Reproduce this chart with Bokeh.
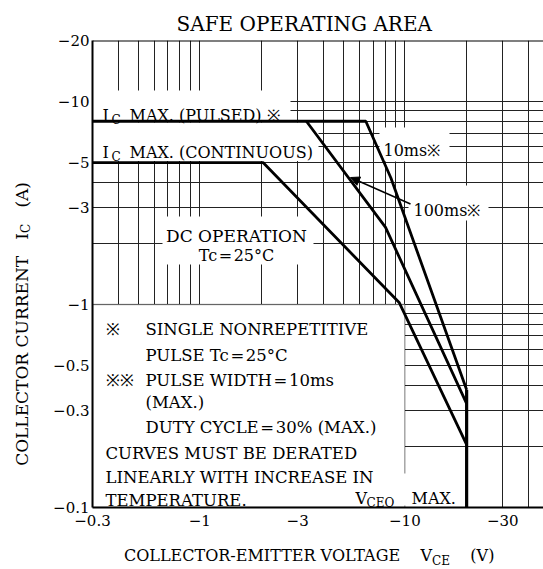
import math
from bokeh.plotting import figure
from bokeh.models import FixedTicker, Label, BoxAnnotation, Arrow, NormalHead, Span, Div
from bokeh.layouts import column, row
from bokeh.embed import file_html
from bokeh.resources import INLINE

# ---------------- data ----------------
x_ticks = [0.3, 1, 3, 10, 30]
x_tick_labels = ["\u22120.3", "\u22121", "\u22123", "\u221210", "\u221230"]
y_ticks = [0.1, 0.3, 0.5, 1, 3, 5, 10, 20]
y_tick_labels = ["\u22120.1", "\u22120.3", "\u22120.5", "\u22121", "\u22123", "\u22125", "\u221210", "\u221220"]
x_grid = [0.4, 0.5, 0.6, 0.7, 0.8, 0.9, 1, 2, 3, 4, 5, 6, 7, 8, 9, 10, 20, 30, 40]
y_grid = [0.2, 0.3, 0.4, 0.5, 0.6, 0.7, 0.8, 0.9, 1, 2, 3, 4, 5, 6, 7, 8, 9, 10]

# SOA boundaries (|VCE| in V, |IC| in A)
v_10ms = [0.3, 6.45, 8.55, 20]
i_10ms = [8, 8, 4.2, 0.38]
v_100ms = [3.31, 8.05, 20]
i_100ms = [8, 2.4, 0.325]
v_dc = [0.3, 2.04, 9.4, 20]
i_dc = [5, 5, 1.02, 0.204]
v_vceo = [20, 20]
i_vceo = [0.38, 0.1]

X0, X1 = 0.3, 47.4
Y0, Y1 = 0.1, 20

# ---------------- layout ----------------
LEFT_W = 40          # width of the rotated y-label column
PW, PH = 503, 533    # plot canvas
FL, FR, FT, FB = 92, 543, 40, 507  # frame edges in page pixels

p = figure(width=PW, height=PH, x_axis_type="log", y_axis_type="log",
           x_range=(X0, X1), y_range=(Y0, Y1),
           output_backend="svg", toolbar_location=None,
           min_border_left=FL - LEFT_W, min_border_right=0,
           min_border_top=FT, min_border_bottom=PH - FB)
p.outline_line_color = None
p.background_fill_color = "white"
p.border_fill_color = "white"
p.margin = (0, 0, 0, 0)

FONT = "DejaVu Serif"

p.title.text = "SAFE OPERATING AREA"
p.title.align = "left"
p.title.offset = 84
p.title.text_font = FONT
p.title.text_font_size = "20px"
p.title.text_font_style = "normal"
p.title.text_color = "black"
p.title.standoff = 10

LX0, LX1 = math.log10(X0), math.log10(X1)
LY0, LY1 = math.log10(Y0), math.log10(Y1)


def px(wx, wy):
    x = 10 ** (LX0 + (wx - FL) / (FR - FL) * (LX1 - LX0))
    y = 10 ** (LY1 - (wy - FT) / (FB - FT) * (LY1 - LY0))
    return x, y


# axes
for ax, ticks, labels, size, stand in ((p.xaxis, x_ticks, x_tick_labels, "15px", 7),
                                        (p.yaxis, y_ticks, y_tick_labels, "15px", 3)):
    ax.ticker = FixedTicker(ticks=ticks)
    ax.major_label_overrides = {t: l for t, l in zip(ticks, labels)}
    ax.axis_line_width = 2
    ax.axis_line_color = "black"
    ax.major_tick_in = 0
    ax.major_tick_out = 0
    ax.minor_tick_in = 0
    ax.minor_tick_out = 0
    ax.major_label_text_font = FONT
    ax.major_label_text_font_size = size
    ax.major_label_text_color = "black"
    ax.major_label_standoff = stand

p.xgrid.ticker = FixedTicker(ticks=x_grid)
p.ygrid.ticker = FixedTicker(ticks=y_grid)
for g in (p.xgrid, p.ygrid):
    g.grid_line_color = "#222222"
    g.grid_line_width = 1

p.add_layout(Span(location=Y1, dimension="width", line_color="black", line_width=2))


def mask(wx0, wy0, wx1, wy1):
    x0, y1 = px(wx0, wy0)
    x1, y0 = px(wx1, wy1)
    p.add_layout(BoxAnnotation(left=x0, right=x1, bottom=y0, top=y1,
                               fill_color="white", fill_alpha=1.0,
                               line_color=None, level="underlay"))


# white label backgrounds interrupting the grid
mask(92, 90, 290, 119.5)      # IC MAX (PULSED)
mask(92, 122, 318, 160.5)     # IC MAX (CONTINUOUS)
mask(162, 216, 313, 264)      # DC OPERATION
p.add_layout(BoxAnnotation(left=X0, right=10, bottom=Y0, top=1,
                           fill_color="white", fill_alpha=1.0,
                           line_color="black", line_width=1.5, level="underlay"))
mask(352, 473, 460, 505)      # VCEO MAX
mask(379, 127, 449, 161)      # 10ms
mask(408, 185, 488, 220)      # 100ms

# curves
LW = 2.8
p.line(v_10ms, i_10ms, line_color="black", line_width=LW)
p.line(v_100ms, i_100ms, line_color="black", line_width=LW)
p.line(v_dc, i_dc, line_color="black", line_width=LW)
p.line(v_vceo, i_vceo, line_color="black", line_width=LW + 0.4)


def lab(text, wx, wy, size=16, align="left", baseline="alphabetic"):
    x, y = px(wx, wy)
    p.add_layout(Label(x=x, y=y, text=text, text_font=FONT,
                       text_font_size=f"{size}px", text_align=align,
                       text_baseline=baseline, text_color="black"))


# in-plot labels
lab("I", 102, 115, 16)
lab("C", 111, 119, 12)
lab("MAX. (PULSED) \u203b", 129, 115, 16)
lab("I", 102, 152, 16)
lab("C", 111, 156, 12)
lab("MAX. (CONTINUOUS)", 129, 152, 16)
lab("DC OPERATION", 236, 235, 17, align="center")
lab("Tc\u200a=\u200a25\u00b0C", 236, 255, 16, align="center")
lab("10ms\u203b", 383, 150, 16)
lab("100ms\u203b", 413, 210, 16)
lab("V", 355, 498, 16)
lab("CEO", 366, 502, 12)
lab("MAX.", 411, 498, 16)

# note box text
note_lines = [
    ("\u203b", 105, 329), ("SINGLE NONREPETITIVE", 145, 329),
    ("PULSE  Tc\u200a=\u200a25\u00b0C", 145, 355),
    ("\u203b\u203b", 105, 380), ("PULSE  WIDTH\u200a=\u200a10ms", 145, 380),
    ("(MAX.)", 145, 402),
    ("DUTY  CYCLE\u200a=\u200a30% (MAX.)", 145, 427),
    ("CURVES MUST BE DERATED", 105, 453),
    ("LINEARLY WITH INCREASE IN", 105, 477),
    ("TEMPERATURE.", 105, 500),
]
for t, wx, wy in note_lines:
    lab(t, wx, wy, 16.5)

# arrow to 100ms curve
xs, ys = px(410, 203.5)
xe, ye = px(350, 177)
p.add_layout(Arrow(x_start=xs, y_start=ys, x_end=xe, y_end=ye, line_width=1.5,
                   line_color="black",
                   end=NormalHead(size=9, fill_color="black", line_color="black")))

# axis titles as HTML text (with real subscripts)
SUB = "font-size:12px; vertical-align:-4px;"
ylabel_html = (
    f"<div style=\"writing-mode:vertical-rl; transform:rotate(180deg); display:inline-block;"
    f" font-family:'{FONT}'; font-size:17px; line-height:17px; white-space:nowrap; color:black;"
    f" margin-left:14px; margin-top:182px;\">"
    f"COLLECTOR CURRENT&nbsp;&nbsp;&nbsp;I<span style=\"{SUB}\">C</span>&nbsp;&nbsp;&nbsp;(A)</div>"
)
xlabel_html = (
    f"<div style=\"font-family:'{FONT}'; font-size:16px; line-height:16px; white-space:nowrap;"
    f" color:black; padding-left:124px; padding-top:15px;\">"
    f"COLLECTOR-EMITTER VOLTAGE&nbsp;&nbsp;&nbsp;&nbsp;V<span style=\"{SUB}\">CE</span>"
    f"&nbsp;&nbsp;&nbsp;&nbsp;(V)</div>"
)
left_div = Div(text=ylabel_html, width=LEFT_W, height=PH, margin=(0, 0, 0, 0),
               styles={"overflow": "visible"})
bottom_div = Div(text=xlabel_html, width=LEFT_W + PW, height=568 - PH, margin=(0, 0, 0, 0),
                 styles={"overflow": "visible"})

layout = column(row(left_div, p, spacing=0, margin=(0, 0, 0, 0)), bottom_div,
                spacing=0, margin=(0, 0, 0, 0))

open("out.html", "w").write(file_html(layout, INLINE))
